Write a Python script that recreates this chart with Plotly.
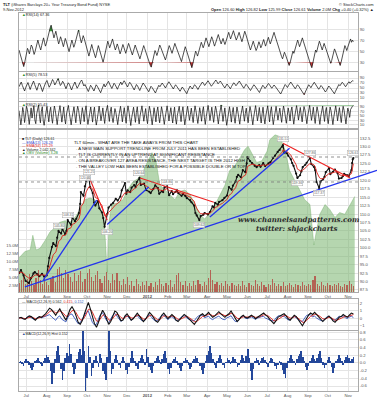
import plotly.graph_objects as go
import pandas as pd
import numpy as np

W, H = 377, 400
def py(p): return 1 - p / H
def px(p): return p / W

FONT = "Liberation Sans"

# ---------------- DATA ----------------
price_dates = ["2011-06-20","2011-06-23","2011-06-27","2011-06-30","2011-07-05","2011-07-08","2011-07-12","2011-07-14",
"2011-07-18","2011-07-21","2011-07-25","2011-07-28","2011-08-01","2011-08-03","2011-08-05","2011-08-09","2011-08-11",
"2011-08-15","2011-08-17","2011-08-19","2011-08-23","2011-08-25","2011-08-29","2011-08-31","2011-09-02","2011-09-07",
"2011-09-09","2011-09-13","2011-09-15","2011-09-19","2011-09-21","2011-09-22","2011-09-26","2011-09-28","2011-09-30",
"2011-10-04","2011-10-06","2011-10-10","2011-10-12","2011-10-14","2011-10-18","2011-10-20","2011-10-24","2011-10-26",
"2011-10-28","2011-11-01","2011-11-03","2011-11-07","2011-11-10","2011-11-14","2011-11-17","2011-11-21","2011-11-23",
"2011-11-28","2011-11-30","2011-12-02","2011-12-06","2011-12-08","2011-12-12","2011-12-14","2011-12-16","2011-12-20",
"2011-12-22","2011-12-27","2011-12-30","2012-01-04","2012-01-06","2012-01-10","2012-01-13","2012-01-17","2012-01-19",
"2012-01-23","2012-01-25","2012-01-27","2012-01-31","2012-02-03","2012-02-07","2012-02-09","2012-02-13","2012-02-15",
"2012-02-17","2012-02-22","2012-02-24","2012-02-28","2012-03-01","2012-03-06","2012-03-08","2012-03-12","2012-03-14",
"2012-03-16","2012-03-20","2012-03-22","2012-03-26","2012-03-28","2012-04-02","2012-04-05","2012-04-09","2012-04-11",
"2012-04-13","2012-04-17","2012-04-19","2012-04-24","2012-04-27","2012-05-01","2012-05-04","2012-05-08","2012-05-10",
"2012-05-14","2012-05-16","2012-05-18","2012-05-22","2012-05-25","2012-05-29","2012-05-31","2012-06-01","2012-06-05",
"2012-06-08","2012-06-12","2012-06-15","2012-06-19","2012-06-21","2012-06-25","2012-06-28","2012-07-03","2012-07-06",
"2012-07-10","2012-07-13","2012-07-17","2012-07-20","2012-07-24","2012-07-25","2012-07-27","2012-07-31","2012-08-02",
"2012-08-06","2012-08-08","2012-08-10","2012-08-14","2012-08-16","2012-08-20","2012-08-22","2012-08-24","2012-08-28",
"2012-08-30","2012-09-04","2012-09-06","2012-09-10","2012-09-12","2012-09-14","2012-09-18","2012-09-20","2012-09-24",
"2012-09-26","2012-09-28","2012-10-03","2012-10-05","2012-10-09","2012-10-12","2012-10-16","2012-10-18","2012-10-22",
"2012-10-24","2012-10-26","2012-10-31","2012-11-02","2012-11-06","2012-11-07","2012-11-08","2012-11-09"]
price_close = [92.5,93.4,91.8,90.2,89.6,91.0,92.4,92.8,92.1,91.6,92.3,91.5,91.8,94.5,97.0,100.2,101.4,
100.5,103.0,105.0,104.2,105.6,104.0,105.0,108.2,106.8,109.0,107.9,108.6,110.3,113.0,116.5,115.4,118.2,119.8,
121.0,118.0,116.2,113.4,112.5,113.8,111.7,110.5,108.8,106.2,110.0,111.9,112.8,113.3,114.5,114.0,115.2,117.0,
119.2,116.0,117.0,116.5,117.8,118.6,118.0,119.5,120.7,118.6,119.0,117.1,116.6,116.2,117.4,118.5,117.7,116.0,
116.8,116.5,117.9,118.2,115.6,116.8,115.9,116.6,117.0,116.2,115.4,116.0,115.3,114.7,114.1,113.5,112.5,110.3,
109.6,108.2,109.4,109.8,110.3,109.9,110.6,112.3,112.0,113.3,112.8,113.6,114.1,114.8,115.5,118.0,117.2,118.4,
119.6,121.0,121.6,120.9,123.0,122.4,125.0,126.9,125.7,125.1,124.3,123.9,124.5,124.0,125.1,124.2,125.0,125.4,
126.6,127.3,128.4,129.0,130.0,130.4,128.2,128.0,127.3,126.2,125.1,124.3,122.0,120.7,121.5,122.6,123.9,124.6,
125.2,126.6,124.8,124.0,123.0,119.5,117.7,119.6,120.3,121.0,122.4,123.6,121.8,122.5,123.2,122.1,120.5,120.7,
121.2,121.9,121.5,121.3,123.0,125.1,126.2,126.6]

obv_dates = ["2011-06-20","2011-06-29","2011-07-07","2011-07-11","2011-07-16","2011-07-22","2011-07-30","2011-08-06",
"2011-08-14","2011-08-21","2011-08-29","2011-09-05","2011-09-13","2011-09-21","2011-09-28","2011-10-06","2011-10-13",
"2011-10-21","2011-10-27","2011-11-01","2011-11-04","2011-11-08","2011-11-17","2011-11-25","2011-12-02","2011-12-10",
"2011-12-18","2011-12-25","2012-01-02","2012-01-08","2012-01-14","2012-01-20","2012-01-28","2012-02-04","2012-02-12",
"2012-02-19","2012-02-27","2012-03-06","2012-03-13","2012-03-21","2012-03-28","2012-04-05","2012-04-13","2012-04-20",
"2012-04-28","2012-05-05","2012-05-13","2012-05-21","2012-05-28","2012-06-02","2012-06-08","2012-06-15","2012-06-23",
"2012-07-01","2012-07-05","2012-07-13","2012-07-20","2012-07-28","2012-08-04","2012-08-12","2012-08-20","2012-08-27",
"2012-09-04","2012-09-10","2012-09-14","2012-09-19","2012-09-27","2012-10-04","2012-10-12","2012-10-19","2012-10-27",
"2012-11-04","2012-11-11"]
obv_level = [21,25,26,35,26,27,32,37,40,43,44,43,46,51,57,58,57,52,47,12,44,54,55,57,63,68,70,74,81,86,81,66,
63,60,57,62,63,60,54,48,45,49,54,60,66,75,78,83,88,90,85,80,81,87,94,97,96,88,75,69,63,57,54,29,38,48,54,51,46,49,48,54,59]

volume_m = [3.5,4.2,5.8,3.1,4.6,6.2,3.9,2.8,5.1,7.5,4.4,3.2,6.0,3.8,2.9,4.7,5.5,3.6,7.8,8.4,6.5,4.9,7.5,6.1,5.2,3.8,
6.4,4.1,5.9,7.2,3.7,4.8,6.6,7.8,5.4,3.9,5.8,7.1,4.6,3.5,5.7,6.9,4.2,3.3,6.1,4.4,6.5,3.9,2.8,4.6,3.2,5.3,2.7,3.9,
2.5,4.8,3.1,2.4,3.6,2.9,4.1,2.6,3.3,2.2,3.8,2.8,4.6,3.0,2.5,3.5,2.7,4.4,2.3,3.1,5.8,6.4,3.6,2.9,4.0,2.6,3.4,2.5,
3.9,2.8,4.5,3.2,2.6,3.7,2.9,5.0,7.6,4.2,3.1,3.8,2.7,3.3,2.6,4.1,3.0,2.5,3.5,2.8,2.4,3.2,2.6,3.9,2.7,2.3,3.4,2.9,
2.5,4.2,3.0,2.6,3.6,2.8,2.2,3.1,2.7,4.8,3.3,2.4,3.0,2.6,3.8,2.5,2.9,3.4,2.7,2.3,3.2,2.8,2.5,3.6,2.9,2.4,3.1,2.7,
4.4,5.6,3.2,2.6,3.7,2.8,2.5,3.3,2.9,2.4,3.0,2.7,3.5,2.6,2.3,3.1,2.8,4.0,3.2,2.5]

rsi14 = [52,46,40,33,27,22,29,38,47,55,51,45,53,61,58,50,44,49,57,64,70,63,56,52,60,68,74,66,59,64,
72,79,86,92,97,90,81,74,80,86,78,70,63,69,76,71,64,58,65,73,
68,61,55,49,56,63,70,64,57,62,69,76,82,88,80,72,65,71,78,73,66,60,
54,47,41,48,56,62,55,49,43,38,45,53,60,54,47,41,35,30,37,46,55,62,
68,62,56,61,67,72,65,58,52,57,63,58,51,45,50,56,62,57,51,46,52,
58,64,59,53,48,43,49,55,61,56,50,45,40,36,42,48,54,60,55,49,44,
39,34,29,24,21,28,36,44,51,47,42,48,55,61,57,52,47,43,38,34,40,
47,54,60,56,51,46,52,58,64,59,54,49,45,41,36,31,38,45,52,58,
53,47,41,35,29,24,20,27,35,43,50,46,41,47,54,60,66,61,56,61,68,74,
69,63,58,64,70,76,71,65,59,64,70,75,80,74,68,63,68,73,67,62,
67,73,79,84,78,72,77,82,87,81,75,70,74,79,84,78,72,67,73,80,86,81,
75,68,62,57,52,57,63,68,62,56,51,55,61,67,62,56,60,66,71,65,59,
64,70,75,69,63,68,74,79,84,78,72,67,61,56,50,45,40,36,42,48,44,
38,33,28,24,29,36,43,50,46,52,59,65,70,64,58,63,69,74,68,62,57,51,46,
41,35,29,24,20,27,35,44,52,48,55,62,68,63,57,52,58,64,59,53,
48,42,37,32,28,33,40,47,54,50,44,39,34,29,24,30,38,46,53,60,56,51,
57,63,68,72,66,70,67]

rsi5 = [55,68,74,60,45,38,52,66,72,58,44,57,70,78,64,50,41,56,69,63,48,36,50,65,73,80,67,53,61,72,
84,76,62,70,81,88,74,60,66,77,70,56,47,59,71,65,51,42,55,68,74,61,49,57,69,76,82,70,58,64,
52,43,36,48,61,55,44,38,50,63,57,46,39,31,44,58,66,54,60,71,77,66,55,48,58,69,63,52,45,56,
68,74,63,70,79,72,61,54,64,73,67,57,50,42,53,64,58,47,40,51,62,70,64,56,49,41,35,46,57,52,
44,38,30,41,53,61,55,62,70,64,57,50,60,69,75,68,59,53,46,55,63,57,49,43,37,45,54,48,40,33,
27,39,50,58,52,46,55,63,59,51,44,53,62,69,74,68,60,66,73,79,72,64,57,63,70,76,82,75,67,72,
78,71,63,57,50,58,66,60,53,47,56,64,71,66,59,65,73,78,70,62,55,49,57,65,60,53,46,40,48,56,
63,58,51,45,38,32,43,53,61,55,48,54,62,68,63,56,49,55,62,57,50,44,37,30,26,36,47,57,64,59,
52,60,68,74,67,60,53,47,55,63,58,50,43,36,29,23,34,46,56,63,58,51,59,67,73,66,58,51,45,52,
60,55,47,40,34,41,50,58,53,46,39,33,27,37,48,57,64,59,66,73,68,61,55,62,70,75,69,74,79,78]

rsi2 = [72,28,9,41,86,63,19,52,91,77,33,11,48,84,39,66,93,31,14,58,82,96,47,18,69,89,27,7,38,79,
91,54,22,67,87,43,16,61,92,71,34,10,46,81,94,59,21,53,88,37,13,57,83,95,64,26,9,42,75,89,
51,18,65,91,73,29,12,49,85,58,23,71,93,44,11,36,76,88,55,21,63,87,38,8,33,73,92,61,27,52,
84,45,15,59,89,95,57,24,67,87,41,19,50,81,64,28,10,45,79,91,59,22,56,85,47,16,62,93,69,31,
6,41,77,87,52,20,64,89,43,13,49,83,93,60,25,55,81,38,14,60,91,71,33,9,46,85,57,22,67,88,
45,18,54,89,69,28,11,43,79,93,63,26,58,85,49,17,57,87,39,12,51,81,91,56,23,65,89,44,9,37,
75,91,61,29,55,83,47,19,63,93,71,33,15,49,85,59,25,69,89,42,11,45,81,95,65,28,57,87,51,20,
61,91,73,35,13,47,83,97,62,24,55,84,38,7,35,72,89,58,21,64,86,43,16,54,88,67,30,12,48,80,
92,60,25,59,83,46,18,61,90,70,31,9,44,79,94,63,27,52,86,48,17,58,87,41,13,50,82,93,57,22,
66,89,45,10,39,76,91,62,30,56,83,48,20,64,92,72,34,16,50,84,60,26,70,88,44,12,46,80,94,66,
30,58,86,52,22,62,90,74,36,14,48,82,95,63,29,55,87,43,15,61,89,68,32,11,47,81,92,58,24,67,
86,40,14,53,88,71,33,10,44,78,93,64,27,57,85,49,19,60,91,73,35,13,50,83,69,42,77,88,91,95]

macd = [0.0,0.1,-0.1,-0.2,0.1,0.3,0.2,-0.1,-0.3,0.0,0.2,0.1,0.3,0.6,1.0,1.4,1.2,0.8,0.4,0.9,1.3,0.7,0.2,-0.3,0.4,1.2,
1.6,1.1,0.3,-0.6,-0.9,-0.4,0.5,1.4,2.2,1.3,0.2,-0.8,-1.3,-0.6,0.4,1.1,0.6,-0.2,-0.9,-0.5,0.3,1.0,0.8,0.2,-0.4,-0.3,
0.3,0.6,0.2,-0.3,-0.1,0.4,0.7,0.3,-0.2,-0.5,-0.2,0.3,0.8,0.5,0.0,-0.4,-0.6,-0.2,0.4,0.7,0.3,-0.1,0.2,0.5,0.2,-0.3,
-0.5,-0.2,0.2,0.5,0.3,0.0,-0.3,-0.6,-0.9,-0.5,0.0,0.4,0.6,0.3,0.5,0.8,0.4,0.1,0.3,0.6,0.9,0.6,0.3,0.1,0.4,0.6,1.0,
0.5,-0.2,-0.5,-0.2,0.2,0.4,0.1,0.0,0.2,0.4,0.2,-0.1,0.1,0.3,0.5,0.7,0.4,0.2,-0.2,-0.5,-0.8,-0.4,0.1,0.3,0.5,0.6,0.3,
-0.1,-0.3,0.1,0.4,0.2,-0.3,-0.7,-1.1,-0.6,0.0,0.4,0.7,0.5,0.8,0.5,0.2,-0.2,-0.5,-0.2,0.1,0.3,0.0,-0.4,-0.6,-0.3,0.1,
0.2,0.5,0.3,0.1,0.4,0.7,0.56]

macd_hist = [0.02,0.05,-0.03,-0.08,0.04,0.10,0.06,-0.05,-0.12,-0.18,
-0.10,0.03,0.08,0.12,0.06,-0.04,-0.09,0.05,0.14,0.20,
0.15,0.08,-0.20,-0.55,-0.25,0.10,0.30,0.45,0.20,-0.15,
-0.45,-0.20,0.12,0.25,0.18,0.50,0.22,-0.10,-0.30,-0.15,
0.10,0.28,0.35,0.20,0.90,0.30,-0.78,-0.40,0.45,0.15,
-0.35,-0.12,0.08,0.18,0.05,-0.10,0.22,0.12,-0.20,-0.30,
-0.45,0.15,0.90,0.30,-0.30,-0.15,0.10,0.20,0.08,-0.06,
-0.12,0.05,0.15,0.06,-0.18,-0.30,-0.10,0.12,0.30,0.14,
0.04,-0.08,-0.15,0.06,0.12,0.20,0.10,-0.05,0.35,0.15,
-0.10,-0.18,-0.25,-0.08,0.05,0.12,0.18,0.08,-0.04,0.10,
0.22,0.30,0.12,-0.15,-0.30,-0.12,0.04,0.10,0.16,0.06,
-0.06,-0.14,-0.20,-0.08,0.05,0.12,0.08,-0.05,-0.16,-0.10,
0.03,0.10,0.18,0.12,0.02,-0.08,-0.18,-0.28,-0.12,0.06,
0.20,0.30,0.45,0.25,0.10,-0.05,-0.12,0.04,0.14,0.20,
0.10,-0.06,-0.14,0.02,0.12,0.08,-0.04,0.06,0.16,0.10,
0.02,-0.10,-0.06,0.08,0.20,0.14,0.05,0.18,0.35,0.12,
-0.20,-0.45,-0.15,0.06,0.14,0.08,-0.06,0.04,0.12,0.16,
0.08,-0.04,-0.10,0.05,0.12,0.10,0.02,-0.08,-0.15,-0.06,
0.04,-0.05,-0.18,-0.28,-0.40,-0.12,0.06,0.14,0.20,0.10,
0.05,-0.06,0.10,0.18,0.24,0.30,0.15,0.04,-0.10,-0.18,
-0.08,0.06,0.12,0.20,0.10,0.05,0.14,0.22,0.30,0.12,
-0.05,-0.14,-0.06,0.08,0.16,0.06,-0.10,-0.25,-0.12,0.04,
0.10,0.20,0.14,0.06,-0.06,0.08,0.16,0.20,0.12,0.04,0.10,0.15]

blue_lines = [
    (["2011-06-29", "2012-11-16"], [88.4, 121.1]),
    (["2011-07-27", "2011-10-16"], [90.5, 114.1]),
    (["2011-11-01", "2012-01-03"], [106.9, 118.0]),
    (["2012-04-05", "2012-08-04"], [109.1, 129.5]),
]
red_lines = [
    (["2011-10-05", "2011-11-01"], [120.7, 108.2]),
    (["2011-12-21", "2012-04-11"], [120.7, 113.5]),
    (["2012-07-25", "2012-11-04"], [131.0, 120.7]),
]
hlines = [119.5, 126.9]

peak_labels = [("2011-09-28", 120.6, "120.60"), ("2011-10-05", 122.4, "121.25"), ("2011-08-19", 106.4, "105.80"),
               ("2011-09-02", 109.6, "108.31"), ("2011-10-31", 104.6, "106.20"), ("2011-12-20", 122.1, "120.64"),
               ("2012-01-31", 119.6, "118.86"), ("2012-03-20", 106.7, "109.62"), ("2012-07-25", 132.2, "131.51"),
               ("2012-09-04", 128.0, "127.86"), ("2012-08-16", 119.2, "119.36"), ("2012-09-18", 116.2, "117.37"),
               ("2012-11-09", 128.0, "126.61")]

month_ticks = pd.date_range("2011-07-01", "2012-11-01", freq="MS")
month_text = ["<b>2012</b>" if d.month == 1 else d.strftime("%b") for d in month_ticks]
x_range = ["2011-06-20", "2012-11-16"]
p_range = [86.9, 134.9]

# ---------------- FIGURE ----------------
fig = go.Figure()
dstart, dend = "2011-06-20", "2012-11-09"

def osc(vals, xa, ya, hi, lo):
    d = pd.date_range(dstart, dend, periods=len(vals))
    v = np.array(vals, float)
    fig.add_trace(go.Scatter(x=d, y=np.full(len(v), hi), xaxis=xa, yaxis=ya, mode="lines",
                             line=dict(width=0), hoverinfo="skip", showlegend=False))
    fig.add_trace(go.Scatter(x=d, y=np.maximum(v, hi), xaxis=xa, yaxis=ya, mode="lines", fill="tonexty",
                             fillcolor="rgba(40,140,40,0.9)", line=dict(width=0), showlegend=False))
    fig.add_trace(go.Scatter(x=d, y=np.full(len(v), lo), xaxis=xa, yaxis=ya, mode="lines",
                             line=dict(width=0), hoverinfo="skip", showlegend=False))
    fig.add_trace(go.Scatter(x=d, y=np.minimum(v, lo), xaxis=xa, yaxis=ya, mode="lines", fill="tonexty",
                             fillcolor="rgba(190,30,30,0.9)", line=dict(width=0), showlegend=False))
    fig.add_trace(go.Scatter(x=d, y=v, xaxis=xa, yaxis=ya, mode="lines",
                             line=dict(color="#151515", width=0.75), showlegend=False))

osc(rsi14, "x", "y", 86, 30)
osc(rsi5, "x2", "y2", 82, 28)
osc(rsi2, "x3", "y3", 92, 9)

fig.add_trace(go.Scatter(x=obv_dates, y=obv_level, xaxis="x4", yaxis="y4", mode="lines", fill="tozeroy",
                         fillcolor="rgba(120,180,110,0.55)", line=dict(color="rgba(110,170,100,0.8)", width=0.5),
                         showlegend=False))
vd = pd.date_range(dstart, dend, periods=len(volume_m))
fig.add_trace(go.Bar(x=vd, y=volume_m, xaxis="x4", yaxis="y7", marker=dict(color="rgba(180,60,55,0.75)", line_width=0),
                     width=1.8 * 86400000, showlegend=False))
fig.add_trace(go.Scatter(x=price_dates, y=price_close, xaxis="x4", yaxis="y8", mode="lines+markers",
                         line=dict(color="#111", width=1.1), marker=dict(size=2.2, color="#111"), showlegend=False))
ema = pd.Series(price_close).ewm(span=5, adjust=False).mean()
fig.add_trace(go.Scatter(x=price_dates, y=ema, xaxis="x4", yaxis="y8", mode="lines",
                         line=dict(color="#e0201b", width=0.9), showlegend=False))
for xs, ys in blue_lines:
    fig.add_trace(go.Scatter(x=xs, y=ys, xaxis="x4", yaxis="y8", mode="lines",
                             line=dict(color="#2233ee", width=1.3), showlegend=False))
for xs, ys in red_lines:
    fig.add_trace(go.Scatter(x=xs, y=ys, xaxis="x4", yaxis="y8", mode="lines",
                             line=dict(color="#ee2222", width=1.1), showlegend=False))

md = pd.date_range(dstart, dend, periods=len(macd))
ms = pd.Series(macd).ewm(span=4, adjust=False).mean()
fig.add_trace(go.Scatter(x=md, y=np.array(macd) - ms, xaxis="x5", yaxis="y5", mode="lines",
                         line=dict(color="#3355bb", width=0.9), showlegend=False))
fig.add_trace(go.Scatter(x=md, y=ms, xaxis="x5", yaxis="y5", mode="lines",
                         line=dict(color="#e0201b", width=0.9), showlegend=False))
fig.add_trace(go.Scatter(x=md, y=macd, xaxis="x5", yaxis="y5", mode="lines",
                         line=dict(color="#111", width=1.1), showlegend=False))
hd = pd.date_range(dstart, dend, periods=len(macd_hist))
fig.add_trace(go.Bar(x=hd, y=macd_hist, xaxis="x6", yaxis="y6", marker=dict(color="#23479a", line_width=0),
                     width=1.0 * 86400000, showlegend=False))

# ---------------- LAYOUT ----------------
tickf = dict(family=FONT, size=4.2, color="#555")
gridc = "#e4e4e4"
XL, XR = 19, 358
xcommon = dict(range=x_range, domain=[px(XL), px(XR)], tickvals=month_ticks, ticktext=month_text,
               showgrid=True, gridcolor=gridc, gridwidth=0.6, showline=True, mirror=True, linecolor="#aaa",
               linewidth=0.8, ticks="", tickfont=tickf, zeroline=False)
lay = dict(width=W, height=H, margin=dict(l=0, r=0, t=0, b=0), paper_bgcolor="white", plot_bgcolor="white",
           bargap=0, showlegend=False)
MT, MB = 130, 292
panels = {"": (13, 71), "2": (72, 101), "3": (102, 128), "4": (MT, MB), "5": (299, 330), "6": (331, 391)}
for k, (t, b) in panels.items():
    xa = dict(xcommon)
    xa["anchor"] = "y" + k
    xa["showticklabels"] = k in ("4", "6")
    if k != "":
        xa["matches"] = "x"
    lay["xaxis" + k] = xa
ycommon = dict(side="right", showgrid=True, gridcolor=gridc, gridwidth=0.6, showline=True, mirror=True,
               linecolor="#aaa", linewidth=0.8, ticks="", tickfont=tickf, zeroline=False)
lay["yaxis"] = dict(ycommon, domain=[py(71), py(13)], range=[14, 119], tickvals=[30, 50, 70, 90], anchor="x")
lay["yaxis2"] = dict(ycommon, domain=[py(101), py(72)], range=[-2, 114], tickvals=[10, 30, 50, 70, 90], anchor="x2")
lay["yaxis3"] = dict(ycommon, domain=[py(128), py(102)], range=[-5, 110], tickvals=[10, 30, 50, 70, 90], anchor="x3")
lay["yaxis4"] = dict(domain=[py(MB), py(MT)], range=[0, 100], showgrid=False, showticklabels=False,
                     showline=True, mirror=True, linecolor="#aaa", linewidth=0.8, zeroline=False, anchor="x4")
vt = [2.5, 5.0, 7.5, 10.0, 12.5, 15.0]
lay["yaxis7"] = dict(overlaying="y4", anchor="x4", side="left", range=[0.6, 51.2], tickvals=vt,
                     ticktext=[f"{v:.1f}M" for v in vt], showgrid=False, tickfont=tickf, zeroline=False, ticks="")
pt = [87.5 + 2.5 * i for i in range(19)]
lay["yaxis8"] = dict(ycommon, overlaying="y4", anchor="x4", range=p_range, tickvals=pt,
                     ticktext=[f"{v:.1f}" for v in pt])
lay["yaxis5"] = dict(ycommon, domain=[py(330), py(299)], range=[-1.7, 2.7], tickvals=[-1, 0, 1, 2], anchor="x5")
ht = [-0.6, -0.4, -0.2, 0.0, 0.2, 0.4, 0.6, 0.8]
lay["yaxis6"] = dict(ycommon, domain=[py(391), py(331)], range=[-0.73, 0.83], tickvals=ht,
                     ticktext=[f"{v:.1f}" for v in ht], anchor="x6")
fig.update_layout(**lay)

# map data -> paper coordinates (same linear scales as the axes) to extend the long support line past the frame
t0, t1 = pd.Timestamp(x_range[0]), pd.Timestamp(x_range[1])
def to_px(d): return XL + (pd.Timestamp(d) - t0) / (t1 - t0) * (XR - XL)
def to_py(p): return MB - (p - p_range[0]) / (p_range[1] - p_range[0]) * (MB - MT)
(lx, ly) = blue_lines[0]
xa_, xb_ = to_px(lx[0]), to_px(lx[1])
ya_, yb_ = to_py(ly[0]), to_py(ly[1])
slope = (yb_ - ya_) / (xb_ - xa_)
shapes = [dict(type="line", xref="paper", yref="paper", x0=px(xb_), y0=py(yb_), x1=px(W), y1=py(yb_ + slope * (W - xb_)),
               line=dict(color="#2233ee", width=1.3))]
for lvl in hlines:
    shapes.append(dict(type="line", xref="x4 domain", yref="y8", x0=0, x1=1, y0=lvl, y1=lvl,
                       line=dict(color="#777", width=0.8, dash="dot")))
fig.update_layout(shapes=shapes)

ann = []
def A(x, y, text, size=4.2, color="#222", xanchor="left", **kw):
    ann.append(dict(x=px(x), y=py(y), xref="paper", yref="paper", text=text, showarrow=False,
                    xanchor=xanchor, yanchor="middle", font=dict(family=FONT, size=size, color=color), **kw))

A(1, 4, "<b>TLT</b> (iShares Barclays 20+ Year Treasury Bond Fund) NYSE", 4.0)
A(376, 4, "© StockCharts.com", 4.0, xanchor="right")
A(1, 9.5, "9-Nov-2012", 4.0)
A(376, 9.5, "<b>Open</b> 126.60 <b>High</b> 126.82 <b>Low</b> 125.99 <b>Close</b> 126.61 <b>Volume</b> 2.0M <b>Chg</b> +0.40 (+0.32%) ▲", 4.0, xanchor="right")
A(20, 15.5, "<span style='color:#2a8a2a'>▲</span>RSI(14) 67.36", 3.8)
A(20, 75, "<span style='color:#2a8a2a'>▲</span>RSI(5) 78.53", 3.8)
A(20, 105, "<span style='color:#2a8a2a'>▲</span>RSI(2) 95.43", 3.8)
A(20, 139, "■ TLT (Daily) 126.61", 3.6)
A(20, 142.6, "— EMA(13) 126.28", 3.6, color="#3344cc")
A(20, 146.2, "— EMA(34) 125.29", 3.6, color="#dd2222")
A(20, 149.8, "▲ Volume 2,042,342", 3.6)
A(20, 153.4, "▲ OBV (Volume) 3.2B", 3.6, color="#2a8a2a")
A(20, 302, "— MACD(12,26,9) 0.562, <span style='color:#dd2222'>0.415</span>, <span style='color:#3355bb'>0.152</span>", 3.6)
A(20, 333.5, "<span style='color:#23479a'>▲</span>MACD(12,26,9) Hist 0.152", 3.6)

lines_txt = ["TLT 60min - WHAT ARE THE TAKE AWAYS FROM THIS CHART",
             ". A NEW MAIN SUPPORT TRENDLINE FROM JULY 2011 HAS BEEN ESTABLISHED",
             ". TLT IS CURRENTLY IN AN UPTREND AT SIGNIFICANT RESISTANCE",
             ". ON A BREAKOVER 127 AREA RESISTANCE, THE NEXT TARGET IS THE 2012 HIGH",
             ". THE VALLEY LOW HAS BEEN ESTABLISHED FOR A POSSIBLE DOUBLE OR M TOP"]
for i, (t, yy) in enumerate(zip(lines_txt, [142, 148.5, 154.5, 160.5, 166.5])):
    A(72 if i == 0 else 74, yy, t, 4.3, color="#111")

for d, p, t in peak_labels:
    ann.append(dict(x=d, y=p, xref="x4", yref="y8", text=t, showarrow=False, font=dict(family=FONT, size=3.4, color="#666"),
                    bgcolor="rgba(255,255,255,0.85)", bordercolor="#aaa", borderwidth=0.5, borderpad=0.5))

ann.append(dict(x=px(298), y=py(219.5), xref="paper", yref="paper", text="<i><b>www.channelsandpatterns.com</b></i>",
                xanchor="center", showarrow=False, font=dict(family="DejaVu Serif", size=7.0, color="#2b2b2b")))
ann.append(dict(x=px(297), y=py(228.5), xref="paper", yref="paper", text="<i><b>twitter: shjackcharts</b></i>",
                xanchor="center", showarrow=False, font=dict(family="DejaVu Serif", size=7.0, color="#2b2b2b")))
fig.update_layout(annotations=ann)

fig.write_html("out.html")
